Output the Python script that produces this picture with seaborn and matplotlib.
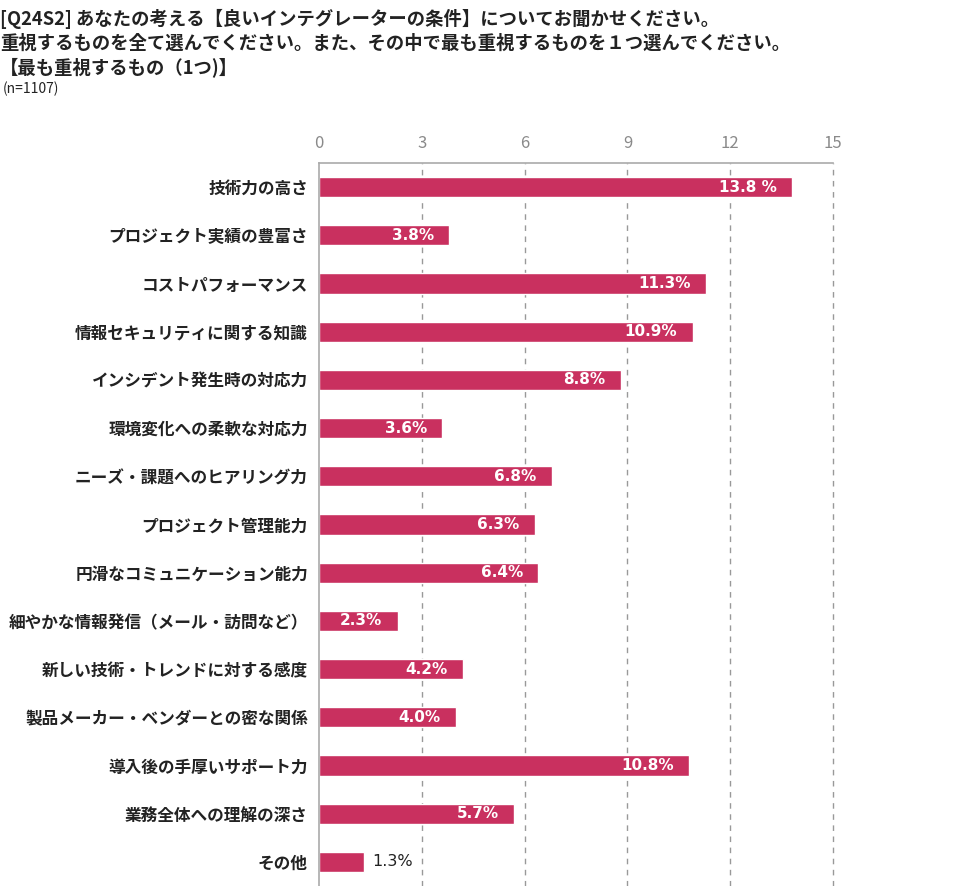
import matplotlib
matplotlib.use("Agg")
import matplotlib.pyplot as plt
import pandas as pd
import seaborn as sns

categories = [
    "技術力の高さ",
    "プロジェクト実績の豊富さ",
    "コストパフォーマンス",
    "情報セキュリティに関する知識",
    "インシデント発生時の対応力",
    "環境変化への柔軟な対応力",
    "ニーズ・課題へのヒアリング力",
    "プロジェクト管理能力",
    "円滑なコミュニケーション能力",
    "細やかな情報発信（メール・訪問など）",
    "新しい技術・トレンドに対する感度",
    "製品メーカー・ベンダーとの密な関係",
    "導入後の手厚いサポート力",
    "業務全体への理解の深さ",
    "その他",
]
values = [13.8, 3.8, 11.3, 10.9, 8.8, 3.6, 6.8, 6.3, 6.4, 2.3, 4.2, 4.0, 10.8, 5.7, 1.3]
labels = ["13.8 %", "3.8%", "11.3%", "10.9%", "8.8%", "3.6%", "6.8%", "6.3%",
          "6.4%", "2.3%", "4.2%", "4.0%", "10.8%", "5.7%", "1.3%"]
ticks = [0, 3, 6, 9, 12, 15]

title_lines = [
    "[Q24S2] あなたの考える【良いインテグレーターの条件】についてお聞かせください。",
    "重視するものを全て選んでください。また、その中で最も重視するものを１つ選んでください。",
    "【最も重視するもの（1つ)】",
]
note = "(n=1107)"

df = pd.DataFrame({"item": categories, "value": values})

sns.set_theme(style="white")
plt.rcParams["font.family"] = ["Noto Sans CJK JP", "DejaVu Sans"]

fig = plt.figure(figsize=(9.7, 8.86), dpi=100)
ax = fig.add_axes([319 / 970, 0.0, (833 - 319) / 970, 1 - 163 / 886])

bar_color = "#C9305F"
sns.barplot(data=df, x="value", y="item", color=bar_color, width=0.42,
            saturation=1, ax=ax, orient="h")

ax.set_xlim(0, 15)
ax.set_ylim(14.5, -0.5)
ax.set_xticks(ticks)
ax.xaxis.tick_top()
ax.tick_params(axis="x", length=0, pad=8, labelsize=12, labelcolor="#8a8a8a")
ax.tick_params(axis="y", length=0, pad=8, labelsize=12)
for t in ax.get_yticklabels():
    t.set_fontweight("bold")
    t.set_color("#222222")
ax.set_xlabel("")
ax.set_ylabel("")
ax.grid(False)
for x in ticks[1:]:
    ax.axvline(x, color="#999999", linestyle=(0, (4, 4)), linewidth=1,
               zorder=0, clip_on=False)

for side in ["right", "bottom"]:
    ax.spines[side].set_visible(False)
ax.spines["top"].set_color("#aaaaaa")
ax.spines["left"].set_color("#aaaaaa")
ax.spines["top"].set_linewidth(1.2)
ax.spines["left"].set_linewidth(1.2)

for i, (v, lab) in enumerate(zip(values, labels)):
    if v < 2:
        ax.text(v + 0.25, i, lab, ha="left", va="center", fontsize=11.5,
                color="#222222", family=["DejaVu Sans"])
    else:
        ax.text(v - 0.45, i, lab, ha="right", va="center", fontsize=11,
                color="white", fontweight="bold", family=["DejaVu Sans"])

y0 = 1 - 19 / 886
for k, line in enumerate(title_lines):
    fig.text(0.0, y0 - k * 24 / 886, line, ha="left", va="center",
             fontsize=13.2, fontweight="bold", color="#222222")
fig.text(0.003, 1 - 89 / 886, note, ha="left", va="center", fontsize=10,
         color="#222222")

fig.savefig("out.png", dpi=100)
